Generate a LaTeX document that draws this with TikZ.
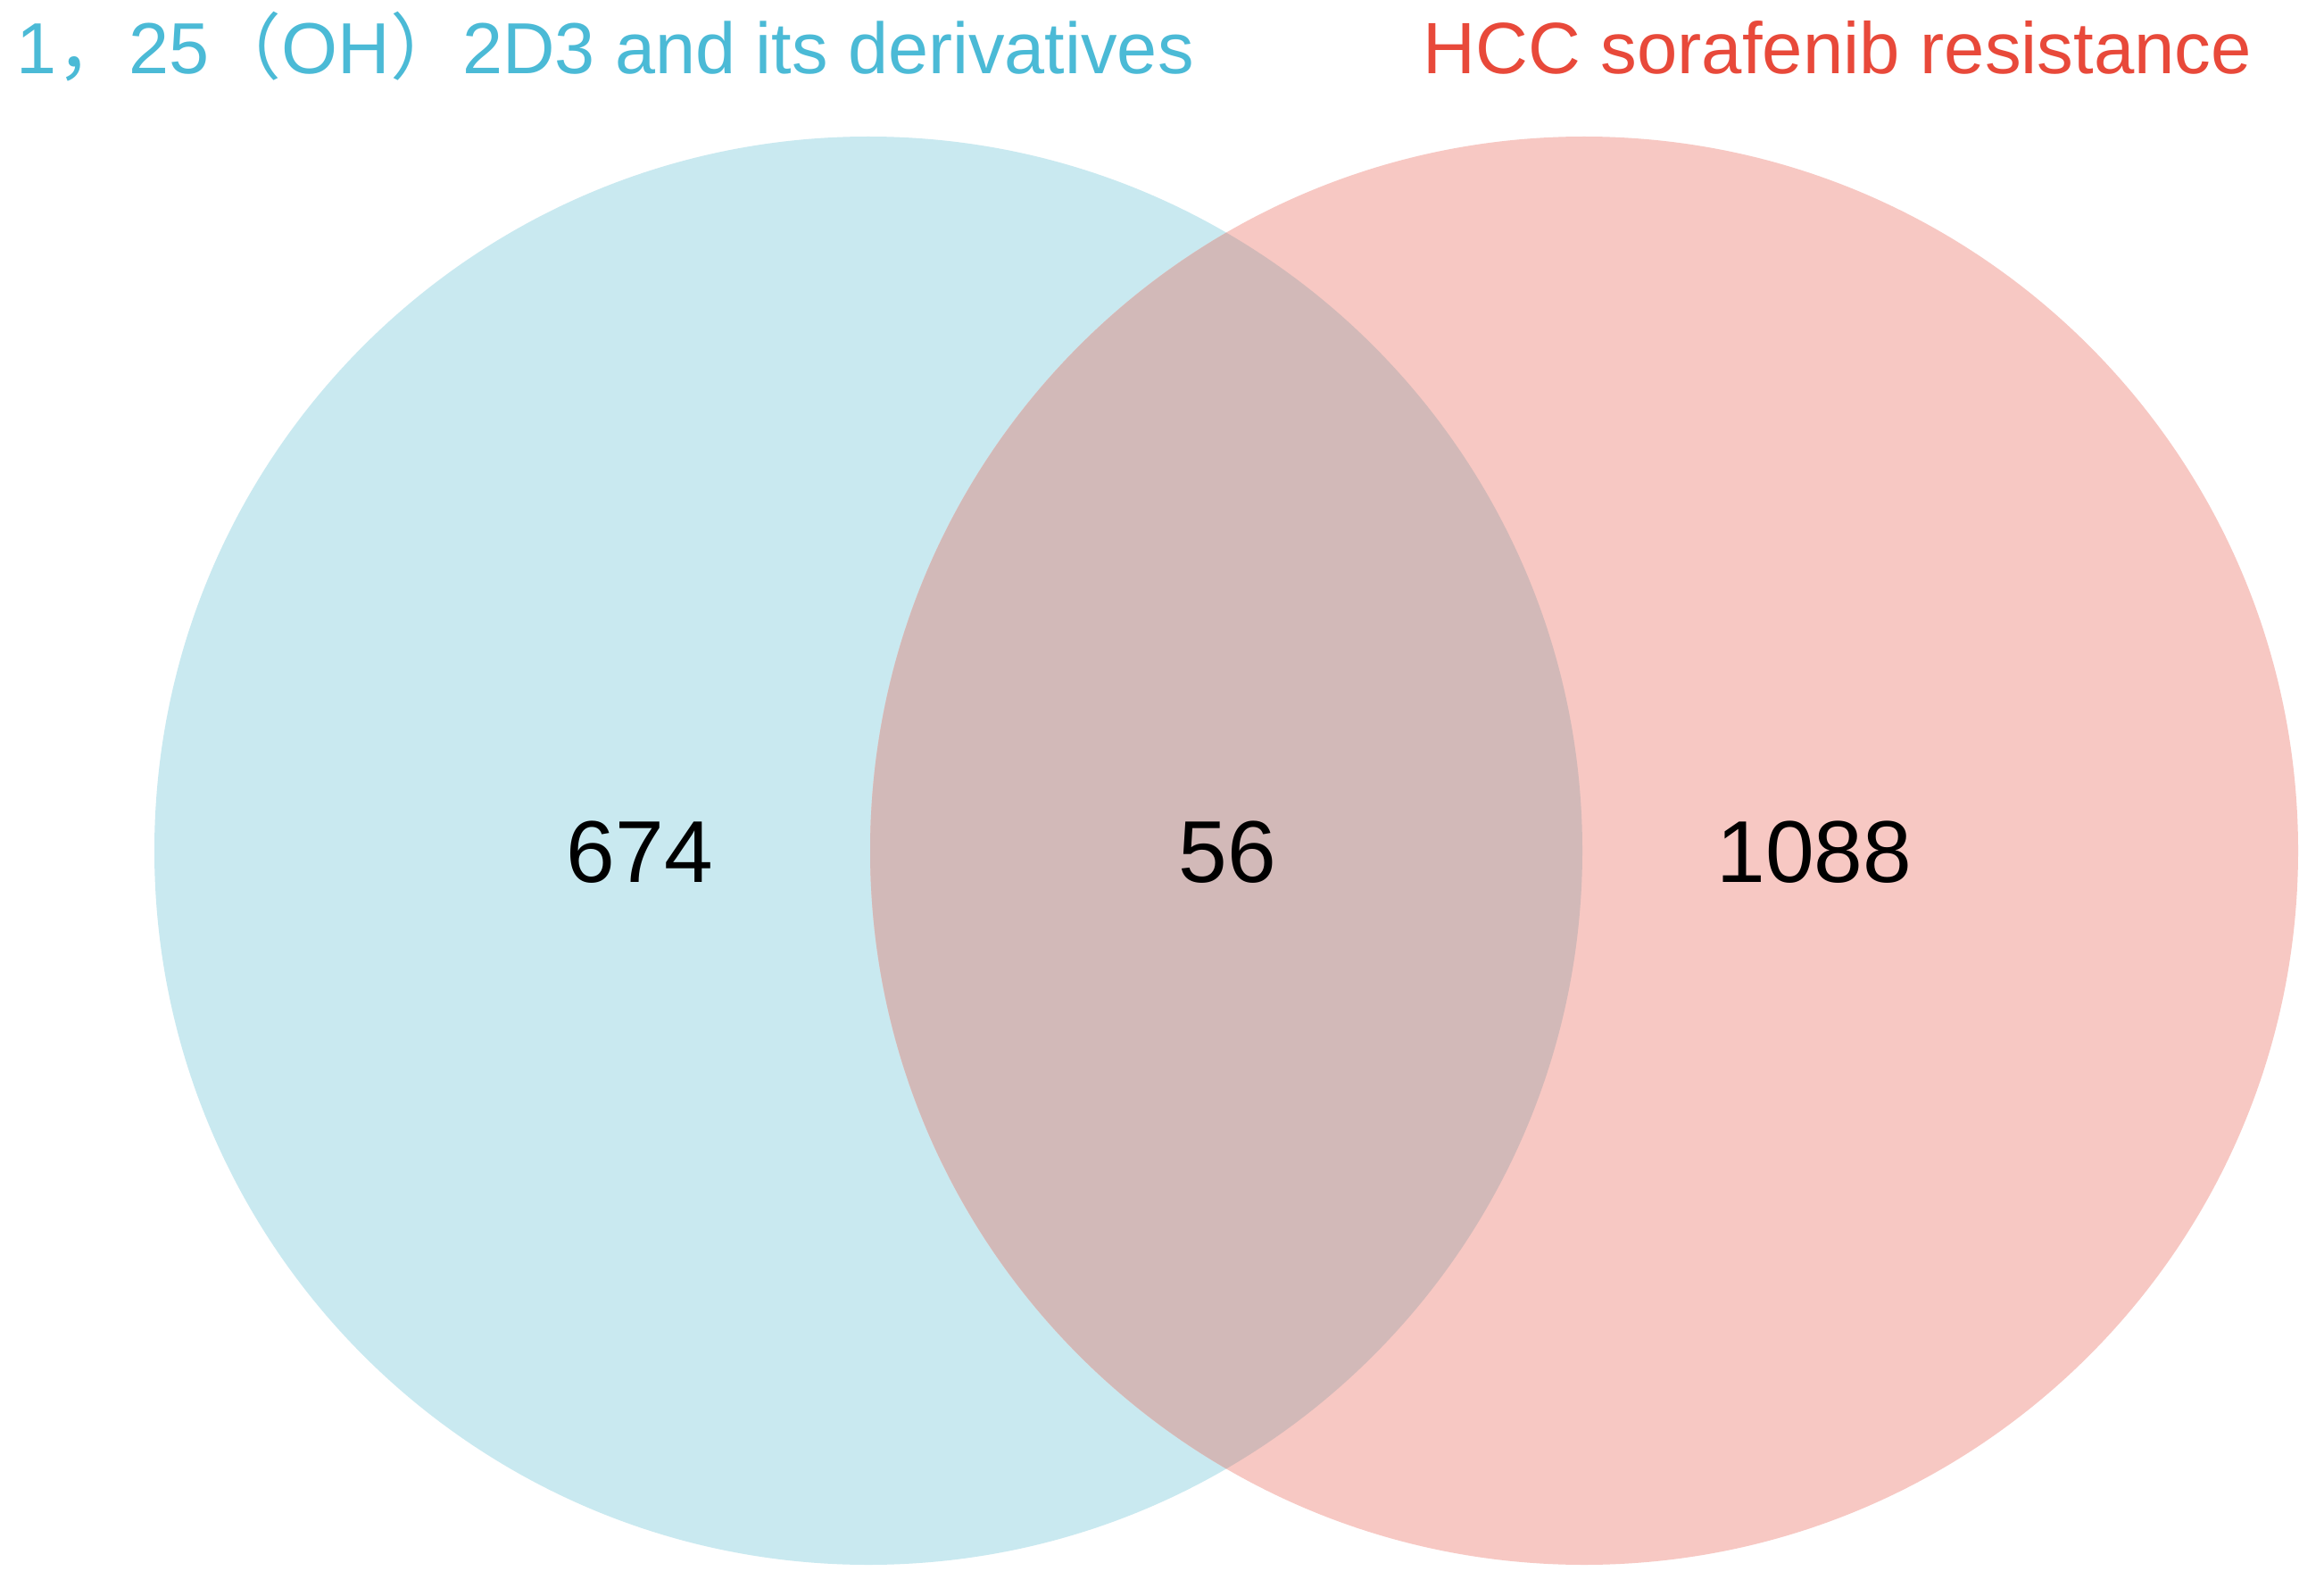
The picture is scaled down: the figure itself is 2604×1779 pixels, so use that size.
\documentclass[tikz,border=0pt]{standalone}
\usepackage{fontspec}
\setmainfont{Liberation Sans}
\newfontfamily\cjk{Noto Sans CJK SC}
\definecolor{leftfill}{HTML}{C9E9F0}
\definecolor{rightfill}{HTML}{F7C8C3}
\definecolor{midfill}{HTML}{D2B9B8}
\definecolor{lefttext}{HTML}{4BBAD6}
\definecolor{righttext}{HTML}{E8493A}
\begin{document}
\begin{tikzpicture}[x=0.3pt,y=-0.3pt,
  title/.style={anchor=base west,inner sep=0pt},
  count/.style={anchor=center,inner sep=0pt,font=\fontsize{29.5pt}{32pt}\selectfont}]
\useasboundingbox (0,0) rectangle (2604,1779);
\fill[white] (0,0) rectangle (2604,1779);
\coordinate (cl) at (973,953);
\coordinate (cr) at (1775,953);
\fill[leftfill] (cl) circle[radius=800];
\fill[rightfill] (cr) circle[radius=800];
\begin{scope}
  \clip (cl) circle[radius=800];
  \fill[midfill] (cr) circle[radius=800];
\end{scope}
\node[title,text=lefttext,font=\fontsize{24.3pt}{28pt}\selectfont] (tl) at (18,83) {1{\cjk ，}25{\cjk （}OH{\cjk ）}2D3 and its derivatives};
\node[title,text=righttext,font=\fontsize{24.45pt}{28pt}\selectfont] (tr) at (1594,83) {HCC sorafenib resistance};
\node[count] (nl) at (717,955) {674};
\node[count] (nm) at (1375,955) {56};
\node[count] (nr) at (2033,955) {1088};
\end{tikzpicture}
\end{document}
